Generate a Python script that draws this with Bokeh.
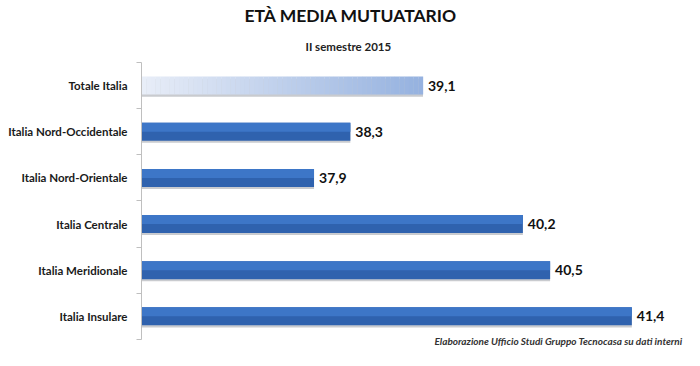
import numpy as np
from bokeh.plotting import figure
from bokeh.models import Range1d, FixedTicker, Title, ColumnDataSource, Label
from bokeh.core.properties import value
from bokeh.embed import file_html
from bokeh.resources import INLINE

# ---------------- data ----------------
categories = ["Totale Italia", "Italia Nord-Occidentale", "Italia Nord-Orientale",
              "Italia Centrale", "Italia Meridionale", "Italia Insulare"]
values = [39.1, 38.3, 37.9, 40.2, 40.5, 41.4]
value_labels = ["39,1", "38,3", "37,9", "40,2", "40,5", "41,4"]
x_start = 36
x_end = 41.98
title_text = "ETÀ MEDIA MUTUATARIO"
subtitle_text = "II semestre 2015"
note_text = "Elaborazione Ufficio Studi Gruppo Tecnocasa su dati interni"

FONT = "Lato"
n = len(categories)
ypos = list(range(n))
bar_h = 0.39

p = figure(width=684, height=350, output_backend="svg", toolbar_location=None,
           x_range=Range1d(x_start, x_end), y_range=Range1d(n - 0.26, -0.5),
           min_border_left=141, min_border_right=0, min_border_top=10,
           min_border_bottom=0, outline_line_color=None, title=None)

# titles
p.add_layout(Title(text=subtitle_text, align="left", offset=164, text_font=FONT,
                   text_font_size="11.5px", text_font_style="bold",
                   text_color="#222222", standoff=20), "above")
p.add_layout(Title(text=title_text, align="left", offset=103, text_font=FONT,
                   text_font_size="17.5px", text_font_style="bold",
                   text_color="#111111", standoff=4), "above")

# shadows
p.hbar(y=[y + 0.045 for y in ypos], right=values, left=x_start, height=bar_h,
       fill_color="#C9CBCF", line_color=None)

# blue bars (skip index 0 which gets a gradient)
blue_idx = [i for i in ypos if i != 0]
src = ColumnDataSource(dict(y=[ypos[i] for i in blue_idx], right=[values[i] for i in blue_idx]))
p.hbar(y="y", right="right", left=x_start, height=bar_h, source=src,
       fill_color="#2F62AE", line_color=None)
src_hi = ColumnDataSource(dict(y=[ypos[i] - bar_h * 0.25 for i in blue_idx],
                               right=[values[i] for i in blue_idx]))
p.hbar(y="y", right="right", left=x_start, height=bar_h * 0.5, source=src_hi,
       fill_color="#3D76C7", line_color=None)

# gradient bar for "Totale Italia"
nseg = 60
edges = np.linspace(x_start, values[0], nseg + 1)
c0 = np.array([0xE8, 0xEE, 0xF8])
c1 = np.array([0x96, 0xB2, 0xE0])
cols = ["#%02x%02x%02x" % tuple(int(v) for v in (c0 + (c1 - c0) * t))
        for t in np.linspace(0, 1, nseg)]
p.hbar(y=[ypos[0]] * nseg, left=edges[:-1], right=edges[1:] + 0.002, height=bar_h,
       fill_color=cols, line_color=None)

# value labels
p.text(x=values, y=ypos, text=value_labels, x_offset=5, text_baseline="middle",
       text_align="left", text_font=value(FONT), text_font_size="14px",
       text_font_style="bold", text_color="#111111")

# footnote
p.add_layout(Label(x=x_end, y=n - 0.5 + 0.04, text=note_text, text_align="right",
                   text_baseline="alphabetic", x_offset=-2, text_font=FONT,
                   text_font_size="10px", text_font_style="bold italic",
                   text_color="#333333"))

# axes
p.xaxis.visible = False
p.xgrid.visible = False
p.ygrid.visible = False
yax = p.yaxis[0]
yax.bounds = (-0.5, n - 0.5)
yax.ticker = FixedTicker(ticks=ypos, minor_ticks=[i - 0.5 for i in range(n + 1)])
yax.major_label_overrides = {i: c for i, c in enumerate(categories)}
yax.major_tick_line_color = None
yax.major_tick_out = 0
yax.major_tick_in = 0
yax.minor_tick_out = 5
yax.minor_tick_in = 0
yax.minor_tick_line_color = "#BFBFBF"
yax.axis_line_color = "#BFBFBF"
yax.major_label_text_font = FONT
yax.major_label_text_font_size = "11.5px"
yax.major_label_text_font_style = "bold"
yax.major_label_text_color = "#1a1a1a"
yax.major_label_standoff = 9

open("out.html", "w").write(file_html(p, INLINE))
